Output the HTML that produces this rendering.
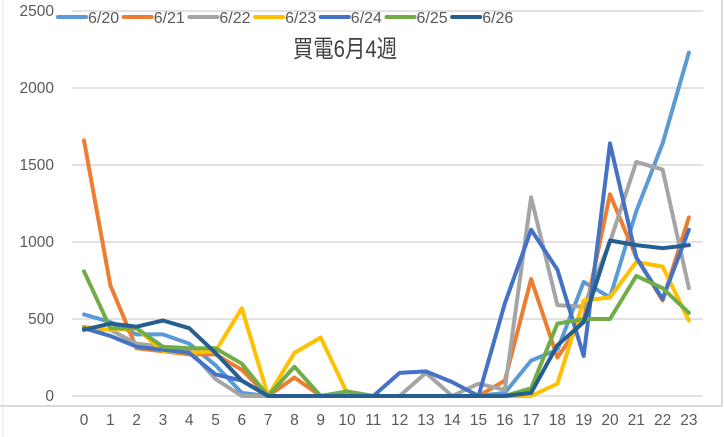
<!DOCTYPE html>
<html><head><meta charset="utf-8"><style>
html,body{margin:0;padding:0;background:#fff;}
svg{display:block;font-family:"Liberation Sans","Noto Sans CJK JP",sans-serif;}
</style></head><body>
<svg width="724" height="437" viewBox="0 0 724 437" xmlns="http://www.w3.org/2000/svg">
<rect width="724" height="437" fill="#fff"/>
<line x1="0" y1="406" x2="722" y2="406" stroke="#d9d9d9" stroke-width="2"/>
<line x1="722" y1="0" x2="722" y2="406" stroke="#d9d9d9" stroke-width="2"/>
<line x1="3" y1="0" x2="3" y2="437" stroke="#e6e6e6" stroke-width="1"/>
<g stroke="#d9d9d9" stroke-width="1.5">
<line x1="72" y1="396" x2="703" y2="396"/>
<line x1="72" y1="319" x2="703" y2="319"/>
<line x1="72" y1="242" x2="703" y2="242"/>
<line x1="72" y1="165" x2="703" y2="165"/>
<line x1="72" y1="88" x2="703" y2="88"/>
<line x1="72" y1="11" x2="703" y2="11"/>
</g>
<g font-size="15.5" fill="#595959" text-anchor="end">
<text x="54" y="401">0</text><text x="54" y="324">500</text><text x="54" y="247">1000</text>
<text x="54" y="170">1500</text><text x="54" y="93">2000</text><text x="54" y="16">2500</text>
</g>
<g id="xl" font-size="15.5" fill="#595959" text-anchor="middle"></g>
<text x="0" y="0" font-size="24" fill="#404040" text-anchor="middle" transform="translate(345,57) scale(0.85,1)">買電6月4週</text>
<g id="lg" font-size="16" fill="#595959"></g>
<g id="ln" fill="none" stroke-width="4" stroke-linejoin="round" stroke-linecap="round"></g>
<script>
var ns="http://www.w3.org/2000/svg";
function X(i){return 84+i*26.3;}function Y(v){return 396-v*0.154;}
var xl=document.getElementById('xl');
for(var i=0;i<24;i++){var t=document.createElementNS(ns,'text');t.setAttribute('x',X(i));t.setAttribute('y',425);t.textContent=i;xl.appendChild(t);}
var S=[
["6/20","#5b9bd5",[530,480,400,400,340,200,20,0,0,0,0,0,0,0,0,0,20,230,300,740,640,1200,1640,2230]],
["6/21","#ed7d31",[1660,720,310,290,270,270,170,0,120,0,0,0,0,0,0,0,100,760,250,500,1310,900,620,1160]],
["6/22","#a5a5a5",[440,430,340,320,300,110,0,0,0,0,0,0,0,150,0,80,40,1290,590,580,1000,1520,1470,700]],
["6/23","#ffc000",[450,430,440,290,280,290,570,0,280,380,20,0,0,0,0,0,0,0,80,620,640,870,840,490]],
["6/24","#4472c4",[440,390,320,300,280,140,100,0,0,0,0,0,150,160,90,0,600,1080,820,260,1640,900,630,1080]],
["6/25","#70ad47",[810,440,440,320,310,310,210,0,190,0,30,0,0,0,0,0,0,50,470,500,500,780,700,540]],
["6/26","#255e91",[430,470,450,490,440,280,100,0,0,0,0,0,0,0,0,0,0,20,330,480,1010,980,960,980]]];
var ln=document.getElementById('ln'),lg=document.getElementById('lg');
S.forEach(function(s,k){var p=s[2].map(function(v,i){return X(i).toFixed(1)+','+Y(v).toFixed(1);}).join(' ');
var e=document.createElementNS(ns,'polyline');e.setAttribute('points',p);e.setAttribute('stroke',s[1]);ln.appendChild(e);
var lx=58+k*65.7;var l=document.createElementNS(ns,'line');l.setAttribute('x1',lx);l.setAttribute('x2',lx+28);l.setAttribute('y1',17);l.setAttribute('y2',17);l.setAttribute('stroke',s[1]);l.setAttribute('stroke-width',4);l.setAttribute('stroke-linecap','round');lg.appendChild(l);
var t=document.createElementNS(ns,'text');t.setAttribute('x',lx+30);t.setAttribute('y',23);t.textContent=s[0];lg.appendChild(t);});
</script>
</svg>
</body></html>
